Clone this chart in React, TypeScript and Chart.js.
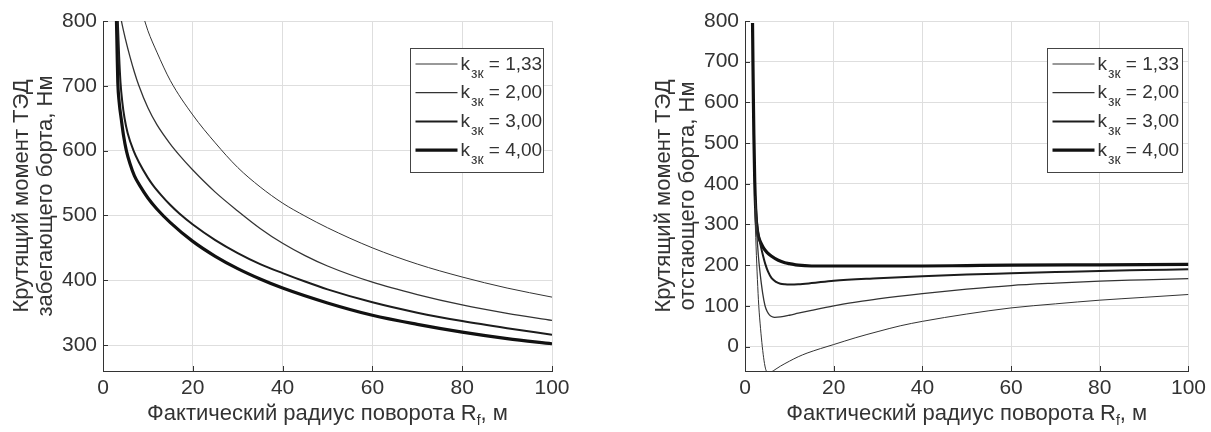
import React, { useEffect, useRef } from 'react';
import { Chart, registerables } from 'chart.js';

Chart.register(...registerables);

const FONT = "'Liberation Sans', Arial, Helvetica, sans-serif";
const TEXT = '#333333';

// Tick values
const xTicks = [0, 20, 40, 60, 80, 100];
const leftYTicks = [300, 400, 500, 600, 700, 800];
const rightYTicks = [0, 100, 200, 300, 400, 500, 600, 700, 800];

// Legend labels (k_зк values)
const kLabels = ['1,33', '2,00', '3,00', '4,00'];

// ---- Left chart: torque of the leading (outer) side ----
const L1x = [8.5, 9.3, 10, 12, 15, 20, 25, 30, 35, 40, 45, 50, 60, 70, 80, 90, 100];
const L1y = [815, 800, 785, 752, 708, 655, 612, 574, 544, 519, 499, 481, 450, 425, 405, 388, 374];

const L2x = [3.9, 4.1, 5, 6, 7, 8, 10, 12, 15, 17, 20, 25, 30, 35, 40, 45, 50, 60, 70, 80, 90, 100];
const L2y = [808, 800, 772, 745, 721, 700, 666, 640, 610, 593, 570, 536, 507, 480, 457, 438, 422, 397, 378, 362, 349, 338];

const L3x = [3.2, 3.3, 3.6, 3.9, 4.3, 4.8, 5.5, 6.8, 8, 10, 11.2, 13, 15, 17, 20, 25, 30, 35, 40, 45, 50, 60, 70, 80, 90, 100];
const L3y = [820, 800, 745, 705, 675, 650, 627, 600, 582, 558, 546, 531, 516, 503, 486, 462, 442, 425, 411, 398, 386, 366, 350, 337, 326, 316];

const L4x = [2.9, 3.0, 3.15, 3.3, 3.6, 4.1, 4.6, 5.2, 6, 7, 8.2, 10, 12, 15, 20, 25, 30, 35, 40, 50, 60, 70, 80, 90, 100];
const L4y = [820, 800, 750, 705, 675, 647, 622, 600, 580, 561, 546, 527, 510, 489, 460, 437, 418, 402, 388, 365, 346, 332, 320, 310, 302];

// ---- Right chart: torque of the lagging (inner) side ----
const R1x = [2.2, 2.5, 2.8, 3.1, 3.5, 3.9, 4.3, 4.7, 5.1, 5.5, 6, 7, 8, 10, 12, 14, 17, 20, 25, 30, 35, 40, 50, 60, 70, 80, 90, 100];
const R1y = [340, 245, 165, 101, 45, 0, -35, -57, -63, -64, -62, -55, -48, -36, -25, -16, -5, 5, 22, 37, 51, 62, 80, 95, 105, 114, 121, 128];

const R2x = [2.3, 2.6, 3.0, 3.4, 4.0, 4.5, 5, 5.5, 6, 6.7, 8, 10, 12, 15, 20, 25, 30, 40, 50, 60, 70, 80, 90, 100];
const R2y = [360, 290, 225, 181, 130, 101, 86, 78, 74, 72, 73, 77, 82, 89, 100, 109, 117, 130, 141, 150, 156, 161, 164, 167];

const R3x = [2.3, 2.6, 3.0, 3.5, 4.1, 4.6, 5.2, 6, 7, 8, 9, 10, 12, 15, 20, 30, 40, 50, 60, 70, 80, 90, 100];
const R3y = [370, 320, 280, 250, 222, 202, 184, 168, 159, 154.5, 153, 152.5, 153, 156, 162, 168, 173, 177, 180, 183, 186, 188, 190];

const R4x = [1.7, 1.8, 1.9, 2.0, 2.2, 2.4, 2.6, 2.8, 3.0, 3.3, 3.7, 4.2, 5, 6, 7.5, 9, 10, 12, 15, 20, 30, 40, 50, 60, 80, 100];
const R4y = [795, 690, 600, 520, 405, 340, 300, 283, 272, 262, 252, 242, 231, 222, 212, 206, 204, 200, 198, 198, 198, 198, 199, 200, 201, 202];

const lineWidths = [1, 1.3, 2, 3.2];
const lineColors = ['#333333', '#333333', '#1c1c1c', '#111111'];

type PanelCfg = {
  id: string;
  left: number;
  width: number;
  axisW: number;
  rightPad: number;
  yMin: number;
  yTicks: number[];
  yTitle: string[];
  xs: number[][];
  ys: number[][];
  legendGap: number;
  legendW: number;
};

const panels: PanelCfg[] = [
  {
    id: 'left',
    left: 0,
    width: 605,
    axisW: 103,
    rightPad: 53,
    yMin: 260,
    yTicks: leftYTicks,
    yTitle: ['Крутящий момент ТЭД', 'забегающего борта, Нм'],
    xs: [L1x, L2x, L3x, L4x],
    ys: [L1y, L2y, L3y, L4y],
    legendGap: 9,
    legendW: 133,
  },
  {
    id: 'right',
    left: 605,
    width: 606,
    axisW: 140,
    rightPad: 18,
    yMin: -60,
    yTicks: rightYTicks,
    yTitle: ['Крутящий момент ТЭД', 'отстающего борта, Нм'],
    xs: [R1x, R2x, R3x, R4x],
    ys: [R1y, R2y, R3y, R4y],
    legendGap: 6,
    legendW: 135,
  },
];

function makeOverlay(cfg: PanelCfg) {
  return {
    id: 'overlay_' + cfg.id,
    afterDraw(chart: any) {
      const ctx: CanvasRenderingContext2D = chart.ctx;
      const a = chart.chartArea;
      const xs = chart.scales.x;
      const ys = chart.scales.y;
      ctx.save();

      // inward tick marks
      ctx.strokeStyle = '#333';
      ctx.lineWidth = 1;
      ctx.beginPath();
      xTicks.forEach((v) => {
        const px = Math.round(xs.getPixelForValue(v)) + 0.5;
        ctx.moveTo(px, a.bottom);
        ctx.lineTo(px, a.bottom - 5);
      });
      cfg.yTicks.forEach((v) => {
        const py = Math.round(ys.getPixelForValue(v)) + 0.5;
        ctx.moveTo(a.left, py);
        ctx.lineTo(a.left + 5, py);
      });
      ctx.stroke();

      // y title (two lines, rotated)
      ctx.fillStyle = TEXT;
      ctx.font = `22px ${FONT}`;
      ctx.textAlign = 'center';
      ctx.textBaseline = 'middle';
      const cy = (a.top + a.bottom) / 2;
      cfg.yTitle.forEach((line, i) => {
        ctx.save();
        ctx.translate(a.left - 81 + i * 24, cy);
        ctx.rotate(-Math.PI / 2);
        ctx.fillText(line, 0, 0);
        ctx.restore();
      });

      // x title with subscript
      ctx.textAlign = 'left';
      ctx.textBaseline = 'alphabetic';
      const main = 'Фактический радиус поворота R';
      const sub = 'f';
      const rest = ', м';
      ctx.font = `22px ${FONT}`;
      const w1 = ctx.measureText(main).width;
      const w3 = ctx.measureText(rest).width;
      ctx.font = `14px ${FONT}`;
      const w2 = ctx.measureText(sub).width;
      const total = w1 + w2 + w3;
      const sx = (a.left + a.right) / 2 - total / 2;
      const by = 420;
      ctx.font = `22px ${FONT}`;
      ctx.fillText(main, sx, by);
      ctx.font = `14px ${FONT}`;
      ctx.fillText(sub, sx + w1, by + 5);
      ctx.font = `22px ${FONT}`;
      ctx.fillText(rest, sx + w1 + w2, by);

      // legend
      const bw = cfg.legendW;
      const bh = 124;
      const bx = Math.round(a.right - cfg.legendGap - bw) + 0.5;
      const byTop = Math.round(a.top + 27) + 0.5;
      ctx.fillStyle = '#ffffff';
      ctx.fillRect(bx, byTop, bw, bh);
      ctx.strokeStyle = '#444';
      ctx.lineWidth = 1;
      ctx.strokeRect(bx, byTop, bw, bh);
      kLabels.forEach((lab, i) => {
        const base = byTop + 21 + i * 28.7;
        const ly = base - 5.5;
        ctx.strokeStyle = lineColors[i];
        ctx.lineWidth = lineWidths[i];
        ctx.beginPath();
        ctx.moveTo(bx + 5, ly);
        ctx.lineTo(bx + 47, ly);
        ctx.stroke();
        ctx.fillStyle = TEXT;
        ctx.font = `19px ${FONT}`;
        const tx = bx + 50;
        ctx.fillText('k', tx, base);
        const wk = ctx.measureText('k').width;
        ctx.font = `14px ${FONT}`;
        ctx.fillText('зк', tx + wk + 1, base + 8);
        const ws = ctx.measureText('зк').width;
        ctx.font = `19px ${FONT}`;
        ctx.fillText(' = ' + lab, tx + wk + 1 + ws, base);
      });

      ctx.restore();
    },
  };
}

function Panel({ cfg }: { cfg: PanelCfg }) {
  const ref = useRef<HTMLCanvasElement>(null);
  useEffect(() => {
    const canvas = ref.current;
    if (!canvas) return;
    const datasets = cfg.xs.map((xArr, i) => ({
      label: 'k = ' + kLabels[i],
      data: xArr.map((x, j) => ({ x, y: cfg.ys[i][j] })),
      borderColor: lineColors[i],
      borderWidth: lineWidths[i],
      pointRadius: 0,
      fill: false,
      cubicInterpolationMode: 'monotone' as const,
    }));
    const tickFont = { family: FONT, size: 21 };
    const chart = new Chart(canvas, {
      type: 'line',
      data: { datasets },
      options: {
        responsive: false,
        animation: false,
        devicePixelRatio: 1,
        layout: { padding: { top: 21, right: cfg.rightPad, left: 0, bottom: 0 } },
        plugins: {
          legend: { display: false },
          tooltip: { enabled: false },
          title: { display: false },
        },
        scales: {
          x: {
            type: 'linear',
            min: 0,
            max: 100,
            afterBuildTicks: (s: any) => {
              s.ticks = xTicks.map((v) => ({ value: v }));
            },
            afterFit: (s: any) => {
              s.height = 61;
            },
            ticks: { color: TEXT, font: tickFont, padding: 5, maxRotation: 0, autoSkip: false },
            grid: { color: '#dedede', drawTicks: false },
            border: { color: '#333', width: 1 },
          },
          y: {
            type: 'linear',
            min: cfg.yMin,
            max: 800,
            afterBuildTicks: (s: any) => {
              s.ticks = cfg.yTicks.map((v) => ({ value: v }));
            },
            afterFit: (s: any) => {
              s.width = cfg.axisW;
            },
            ticks: { color: TEXT, font: tickFont, padding: 6, autoSkip: false },
            grid: { color: '#dedede', drawTicks: false },
            border: { color: '#333', width: 1 },
          },
        },
      },
      plugins: [makeOverlay(cfg)],
    } as any);
    return () => chart.destroy();
  }, [cfg]);
  return (
    <canvas
      ref={ref}
      width={cfg.width}
      height={432}
      style={{ position: 'absolute', left: cfg.left, top: 0, width: cfg.width, height: 432 }}
    />
  );
}

export default function App() {
  return (
    <div style={{ position: 'absolute', left: 0, top: 0, width: 1211, height: 432, background: '#fff' }}>
      {panels.map((p) => (
        <Panel key={p.id} cfg={p} />
      ))}
    </div>
  );
}
